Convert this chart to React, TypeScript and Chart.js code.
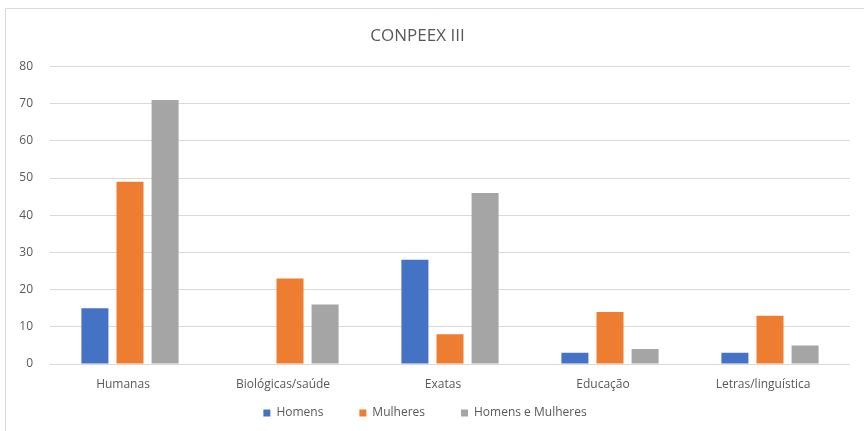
import React, { useEffect, useRef } from "react";
import { Chart, registerables } from "chart.js";

Chart.register(...registerables);

const categories = ["Humanas", "Biológicas/saúde", "Exatas", "Educação", "Letras/linguística"];
const homens = [15, 0, 28, 3, 3];
const mulheres = [49, 23, 8, 14, 13];
const homensEMulheres = [71, 16, 46, 4, 5];
const seriesNames = ["Homens", "Mulheres", "Homens e Mulheres"];
const yTicksMax = 80;
const yStep = 10;
const titleText = "CONPEEX III";

const FONT = "'Open Sans', 'Liberation Sans', sans-serif";
const TEXT = "#595959";
const LEGEND_PAD = 36;

const framePlugin = {
  id: "frame",
  afterInit(chart: any) {
    const lg = chart.legend;
    if (lg && !lg.__patched) {
      const orig = lg.fit.bind(lg);
      lg.fit = function () {
        orig();
        this.height = 37;
      };
      lg.__patched = true;
    }
  },
  afterLayout(chart: any) {
    if (chart.legend) {
      chart.legend.top = chart.legend.top - LEGEND_PAD + 13;
    }
    if (chart.titleBlock) {
      chart.titleBlock.left -= 15;
    }
  },
  beforeDraw(chart: any) {
    const ctx = chart.ctx;
    ctx.save();
    ctx.fillStyle = "#ffffff";
    ctx.fillRect(0, 0, chart.width, chart.height);
    ctx.strokeStyle = "#d9d9d9";
    ctx.lineWidth = 1;
    ctx.beginPath();
    ctx.moveTo(5.5, chart.height);
    ctx.lineTo(5.5, 8.5);
    ctx.lineTo(chart.width, 8.5);
    ctx.stroke();
    ctx.restore();
  },
};

export default function App() {
  const ref = useRef<HTMLCanvasElement | null>(null);
  useEffect(() => {
    document.body.style.margin = "0";
    const canvas = ref.current!;
    const chart = new Chart(canvas, {
      type: "bar",
      data: {
        labels: categories,
        datasets: [
          { label: seriesNames[0], data: homens, backgroundColor: "#4472C4" },
          { label: seriesNames[1], data: mulheres, backgroundColor: "#ED7D31" },
          { label: seriesNames[2], data: homensEMulheres, backgroundColor: "#A5A5A5" },
        ],
      },
      options: {
        animation: false,
        responsive: false,
        devicePixelRatio: 1,
        layout: { padding: { left: 0, right: 14, top: 0, bottom: 0 } },
        datasets: { bar: { categoryPercentage: 0.658, barPercentage: 0.77 } },
        plugins: {
          title: {
            display: true,
            text: titleText,
            color: TEXT,
            font: { family: FONT, size: 17, weight: "normal" },
            padding: { top: 26, bottom: 20 },
          },
          legend: {
            display: true,
            position: "bottom",
            labels: {
              boxWidth: 7,
              boxHeight: 7,
              padding: LEGEND_PAD,
              color: TEXT,
              font: { family: FONT, size: 12 },
            },
          },
          tooltip: { enabled: false },
        },
        scales: {
          x: {
            grid: { display: false, drawTicks: false },
            border: { display: false },
            ticks: { color: TEXT, font: { family: FONT, size: 12 }, padding: 13, labelOffset: -7 },
            afterFit: (s: any) => {
              s.height = 30;
            },
          },
          y: {
            min: 0,
            max: yTicksMax,
            ticks: { stepSize: yStep, color: TEXT, font: { family: FONT, size: 12 }, padding: 17 },
            grid: { color: "#d9d9d9", drawTicks: false },
            border: { display: false },
            afterFit: (s: any) => {
              s.width = 50;
            },
          },
        },
      },
      plugins: [framePlugin],
    });
    return () => chart.destroy();
  }, []);
  return <canvas ref={ref} width={864} height={431} style={{ display: "block" }} />;
}
